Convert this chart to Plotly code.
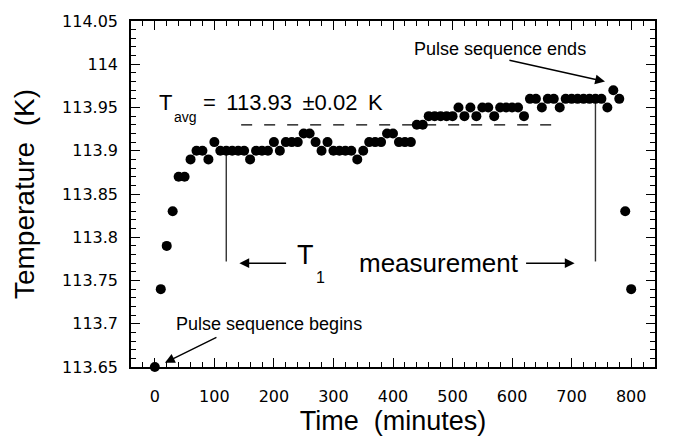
import plotly.graph_objects as go

# ---- data ----
time_min = [0, 10, 20, 30, 40, 50, 60, 70, 80, 90,
            100, 110, 120, 130, 140, 150, 160, 170, 180, 190,
            200, 210, 220, 230, 240, 250, 260, 270, 280, 290,
            300, 310, 320, 330, 340, 350, 360, 370, 380, 390,
            400, 410, 420, 430, 440, 450, 460, 470, 480, 490,
            500, 510, 520, 530, 540, 550, 560, 570, 580, 590,
            600, 610, 620, 630, 640, 650, 660, 670, 680, 690,
            700, 710, 720, 730, 740, 750, 760, 770, 780, 790, 800]
temperature_K = [113.65, 113.74, 113.79, 113.83, 113.87, 113.87, 113.89, 113.90, 113.90, 113.89,
                 113.91, 113.90, 113.90, 113.90, 113.90, 113.90, 113.89, 113.90, 113.90, 113.90,
                 113.91, 113.90, 113.91, 113.91, 113.91, 113.92, 113.92, 113.91, 113.90, 113.91,
                 113.90, 113.90, 113.90, 113.90, 113.89, 113.90, 113.91, 113.91, 113.91, 113.92,
                 113.92, 113.91, 113.91, 113.91, 113.93, 113.93, 113.94, 113.94, 113.94, 113.94,
                 113.94, 113.95, 113.94, 113.95, 113.94, 113.95, 113.95, 113.94, 113.95, 113.95,
                 113.95, 113.95, 113.94, 113.96, 113.96, 113.95, 113.96, 113.96, 113.95, 113.96,
                 113.96, 113.96, 113.96, 113.96, 113.96, 113.96, 113.95, 113.97, 113.96, 113.83, 113.74]

avg_line_time = [145, 672]
avg_value = 113.93
window_start, window_end = 120, 740
window_low = 113.772

x_ticks = [0, 100, 200, 300, 400, 500, 600, 700, 800]
y_ticks = [113.65, 113.7, 113.75, 113.8, 113.85, 113.9, 113.95, 114.0, 114.05]
y_ticklabels = ["113.65", "113.7", "113.75", "113.8", "113.85", "113.9", "113.95", "114", "114.05"]

TXT = "Liberation Sans, Arial, sans-serif"
TICKF = "DejaVu Sans, sans-serif"

fig = go.Figure()

# dashed average line
fig.add_trace(go.Scatter(x=avg_line_time, y=[avg_value, avg_value], mode="lines",
                         line=dict(color="black", width=1.3, dash="11px,12px"),
                         showlegend=False, hoverinfo="skip"))
# measurement window lines
fig.add_trace(go.Scatter(x=[window_start, window_start], y=[113.90, window_low], mode="lines",
                         line=dict(color="#333", width=1.4), showlegend=False, hoverinfo="skip"))
fig.add_trace(go.Scatter(x=[window_end, window_end], y=[113.96, window_low], mode="lines",
                         line=dict(color="#333", width=1.4), showlegend=False, hoverinfo="skip"))
# data
fig.add_trace(go.Scatter(x=time_min, y=temperature_K, mode="markers",
                         marker=dict(color="black", size=10),
                         cliponaxis=False, showlegend=False))

axis_common = dict(showgrid=False, zeroline=False, showline=True, linecolor="black",
                   linewidth=1.5, ticks="inside", ticklen=9, tickwidth=1.3, tickcolor="black",
                   mirror="allticks", tickfont=dict(family=TICKF, size=16, color="black"))

fig.update_xaxes(range=[-40, 840], tickvals=x_ticks, ticklabelstandoff=14,
                 minor=dict(tick0=0, dtick=20, ticks="inside", ticklen=5, tickcolor="black", tickwidth=1),
                 title=dict(text="Time\u00a0\u00a0(minutes)", font=dict(family=TXT, size=27, color="black"),
                            standoff=2),
                 **axis_common)
fig.update_yaxes(range=[113.65, 114.05], tickvals=y_ticks, ticktext=y_ticklabels, ticklabelstandoff=8,
                 minor=dict(tick0=113.65, dtick=0.01, ticks="inside", ticklen=5, tickcolor="black", tickwidth=1),
                 title=dict(text="Temperature\u00a0\u00a0(K)", font=dict(family=TXT, size=28, color="black"),
                            standoff=19),
                 **axis_common)

def ann(text, x, y, size, xanchor="left"):
    fig.add_annotation(x=x, y=y, xref="x", yref="y", text=text, showarrow=False,
                       xanchor=xanchor, yanchor="middle",
                       font=dict(family=TXT, size=size, color="black"))

# T_avg label
ann("T", 3.7, 113.956, 22)
ann("avg", 28.4, 113.939, 14)
ann("=\u2009 113.93 \u2009±0.02 \u2009K", 77.6, 113.956, 22)
# T1 measurement
ann("T", 236, 113.779, 27)
ann("1", 268, 113.753, 16)
ann("measurement", 339, 113.770, 26)

# arrows
def arrow(x0, y0, x1, y1):
    fig.add_annotation(x=x1, y=y1, ax=x0, ay=y0, xref="x", yref="y", axref="x", ayref="y",
                       text="", showarrow=True, arrowhead=2, arrowsize=1.4, arrowwidth=1.4,
                       arrowcolor="black")

arrow(223, 113.77, 142, 113.77)
arrow(621, 113.77, 705, 113.77)
# pulse sequence labels
ann("Pulse sequence ends", 432, 114.018, 18)
arrow(593, 114.005, 756, 113.98)
ann("Pulse sequence begins", 33, 113.70, 18)
arrow(106, 113.685, 17, 113.655)

fig.update_layout(width=673, height=439, margin=dict(l=131, r=18, t=15, b=68),
                  paper_bgcolor="white", plot_bgcolor="white", showlegend=False)

fig.write_html("out.html")
